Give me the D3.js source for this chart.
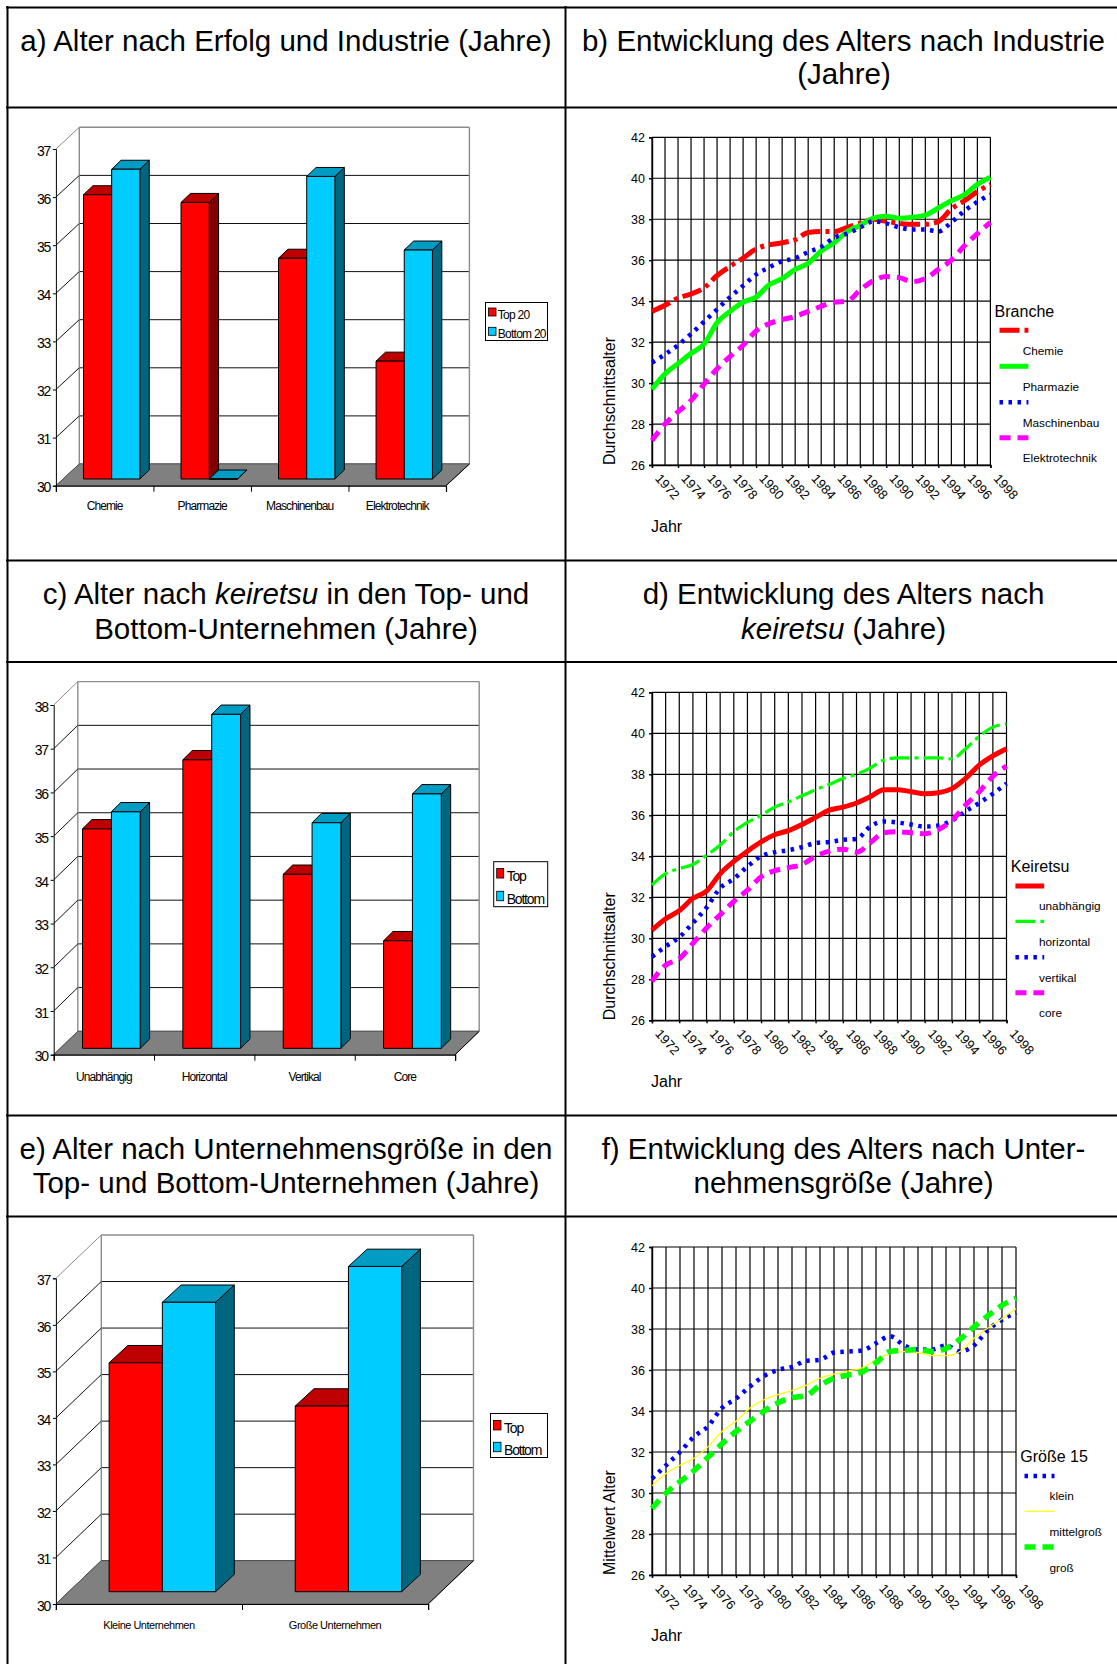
<!DOCTYPE html>
<html lang="de">
<head>
<meta charset="utf-8">
<script src="https://cdn.jsdelivr.net/npm/d3@7"></script>
<style>
	body { margin: 0; background: #fff; }
	svg { display: block; }
	text { font-family: "Liberation Sans", Arial, sans-serif; fill: #000; }
</style>
</head>
<body>
<div id="graphic"></div>
<script>
// panel a
const industries = ['Chemie', 'Pharmazie', 'Maschinenbau', 'Elektrotechnik'];
const industryTop = [35.91, 35.75, 34.59, 32.45];
const industryBottom = [36.44, 30, 36.29, 34.76];
// panel c
const keiretsuTypes = ['Unabhängig', 'Horizontal', 'Vertikal', 'Core'];
const keiretsuTop = [35.02, 36.6, 33.98, 32.46];
const keiretsuBottom = [35.41, 37.64, 35.16, 35.82];
// panel e
const firmSizes = ['Kleine Unternehmen', 'Große Unternehmen'];
const sizeTop = [34.92, 33.99];
const sizeBottom = [36.22, 36.99];

const years = d3.range(1972, 1999);
const yearTicks = years.filter(d => d % 2 === 0);
const ageTicks = [26, 28, 30, 32, 34, 36, 38, 40, 42];

// panel b
const chemie = [33.5, 33.8, 34.15, 34.35, 34.65, 35.25, 35.7, 36.1, 36.55, 36.75, 36.85, 37.0, 37.35, 37.4, 37.4, 37.6, 37.8, 38.0, 37.9, 37.8, 37.75, 37.75, 37.88, 38.5, 38.9, 39.35, 39.7];
const pharmazie = [29.7, 30.45, 30.95, 31.45, 31.9, 32.95, 33.5, 33.95, 34.2, 34.8, 35.1, 35.55, 35.85, 36.45, 36.85, 37.4, 37.7, 38.05, 38.15, 38.05, 38.1, 38.2, 38.55, 38.9, 39.2, 39.7, 40.05];
const maschinenbau = [31.0, 31.4, 31.85, 32.4, 33.0, 33.6, 34.2, 34.75, 35.3, 35.65, 35.95, 36.1, 36.4, 36.65, 37.1, 37.3, 37.6, 37.9, 37.8, 37.6, 37.5, 37.5, 37.4, 37.85, 38.4, 38.85, 39.2];
const elektrotechnik = [27.2, 28.0, 28.6, 29.15, 29.95, 30.7, 31.3, 31.85, 32.55, 32.9, 33.1, 33.25, 33.5, 33.75, 33.95, 34.0, 34.55, 35.0, 35.2, 35.15, 34.95, 35.1, 35.55, 36.0, 36.7, 37.3, 37.85];
// panel d
const unabhaengig = [30.4, 30.95, 31.35, 31.95, 32.3, 33.15, 33.75, 34.25, 34.7, 35.05, 35.25, 35.55, 35.9, 36.25, 36.4, 36.6, 36.9, 37.25, 37.25, 37.15, 37.05, 37.1, 37.3, 37.8, 38.45, 38.9, 39.25];
const horizontal = [32.6, 33.15, 33.4, 33.6, 34.05, 34.55, 35.2, 35.65, 36.0, 36.4, 36.65, 36.95, 37.25, 37.5, 37.8, 38.0, 38.3, 38.7, 38.8, 38.8, 38.8, 38.8, 38.75, 39.25, 39.85, 40.3, 40.45];
const vertikal = [29.1, 29.6, 30.05, 30.75, 31.5, 32.45, 32.9, 33.5, 34.0, 34.2, 34.3, 34.45, 34.65, 34.7, 34.8, 34.85, 35.45, 35.7, 35.65, 35.55, 35.45, 35.5, 35.75, 36.2, 36.6, 37.05, 37.55];
const core = [27.9, 28.7, 29.0, 29.75, 30.5, 31.15, 31.8, 32.35, 33.0, 33.3, 33.45, 33.6, 34.0, 34.25, 34.35, 34.2, 34.65, 35.15, 35.2, 35.15, 35.1, 35.3, 35.75, 36.5, 37.15, 37.9, 38.4];
// panel f
const klein = [30.7, 31.35, 32.0, 32.75, 33.25, 34.15, 34.6, 35.2, 35.7, 36.0, 36.15, 36.45, 36.5, 36.85, 36.9, 36.95, 37.3, 37.65, 37.2, 37.0, 37.0, 37.2, 36.9, 37.2, 37.95, 38.45, 38.8];
const mittelgross = [30.35, 30.95, 31.35, 31.7, 32.25, 33.0, 33.5, 34.15, 34.55, 34.8, 35.0, 35.25, 35.6, 35.8, 35.95, 36.1, 36.5, 36.8, 36.9, 36.85, 36.7, 36.7, 36.9, 37.55, 38.05, 38.5, 39.0];
const gross = [29.25, 30.0, 30.55, 31.1, 31.75, 32.4, 33.0, 33.5, 34.0, 34.4, 34.65, 34.75, 35.25, 35.6, 35.75, 35.9, 36.35, 36.9, 36.95, 37.0, 36.9, 37.05, 37.5, 38.1, 38.65, 39.15, 39.5];

const width = 1117;
const height = 1664;

const styleSolid = { dash: null, w: 5 };
const styleDashDot = { dash: '20 5 4 5', w: 5 };
const styleDots = { dash: '3.5 5.5', w: 4.5 };
const styleDash = { dash: '11 7', w: 5 };

let svg = d3.select('#graphic').append('svg')
	.attr('width', width)
	.attr('height', height);

//table frame
const frameH = [7.5, 107.5, 560.5, 662, 1115.5, 1216.5];
const frameV = [7.5, 565.5];
svg.selectAll('.frameh').data(frameH).join('line')
	.attr('x1', 6).attr('x2', width).attr('y1', d => d).attr('y2', d => d)
	.attr('stroke', '#000').attr('stroke-width', 2);
svg.selectAll('.framev').data(frameV).join('line')
	.attr('class', 'framev')
	.attr('x1', d => d).attr('x2', d => d).attr('y1', 6).attr('y2', height)
	.attr('stroke', '#000').attr('stroke-width', 2);

//titles, one entry per line
const titles = [
	{ x: 286, y: 50.5, parts: [['a) Alter nach Erfolg und Industrie (Jahre)']] },
	{ x: 843.5, y: 50.5, parts: [['b) Entwicklung des Alters nach Industrie']] },
	{ x: 844, y: 84, parts: [['(Jahre)']] },
	{ x: 286, y: 604, parts: [['c) Alter nach '], ['keiretsu', true], [' in den Top- und']] },
	{ x: 286, y: 638.5, parts: [['Bottom-Unternehmen (Jahre)']] },
	{ x: 843.5, y: 604, parts: [['d) Entwicklung des Alters nach']] },
	{ x: 843.5, y: 638.5, parts: [['keiretsu', true], [' (Jahre)']] },
	{ x: 286, y: 1159, parts: [['e) Alter nach Unternehmensgröße in den']] },
	{ x: 286, y: 1192.5, parts: [['Top- und Bottom-Unternehmen (Jahre)']] },
	{ x: 843.5, y: 1159, parts: [['f) Entwicklung des Alters nach Unter-']] },
	{ x: 843.5, y: 1192.5, parts: [['nehmensgröße (Jahre)']] }
];

titles.forEach(t => {
	let label = svg.append('text')
		.attr('x', t.x).attr('y', t.y)
		.attr('text-anchor', 'middle')
		.style('font-size', '29.5px');
	t.parts.forEach(p => {
		label.append('tspan')
			.style('font-style', p[1] ? 'italic' : 'normal')
			.text(p[0]);
	});
});

function drawBarPanel(p) {
	const g = svg.append('g');
	const backX = d => d + p.depth[0];
	const backY = d => d - p.depth[1];

	let y = d3.scaleLinear().domain([30, p.maxValue]).range(p.yRange);
	let x = d3.scaleBand().domain(p.categories).range(p.xRange).paddingInner(p.padding).paddingOuter(p.padding / 2);
	let xSeries = d3.scaleBand().domain(['top', 'bottom']).range([0, x.bandwidth()]);
	const ticks = d3.range(30, p.maxValue + 1);
	const left = p.xRange[0];
	const right = p.xRange[1];
	const base = p.yRange[0];

	//back wall with gridlines
	g.selectAll('.grid').data(ticks).join('line')
		.attr('x1', backX(left)).attr('x2', backX(right))
		.attr('y1', d => backY(y(d))).attr('y2', d => backY(y(d)))
		.attr('stroke', d => d == p.maxValue ? '#8c8c8c' : '#111')
		.attr('stroke-width', d => d == p.maxValue ? 1.4 : 1);
	g.append('line')
		.attr('x1', backX(left)).attr('x2', backX(left))
		.attr('y1', backY(y(30))).attr('y2', backY(y(p.maxValue)))
		.attr('stroke', '#8c8c8c').attr('stroke-width', 1.4);
	g.append('line')
		.attr('x1', backX(right)).attr('x2', backX(right))
		.attr('y1', backY(y(30))).attr('y2', backY(y(p.maxValue)))
		.attr('stroke', '#8c8c8c').attr('stroke-width', 1.4);
	//side wall diagonals
	g.selectAll('.diag').data(ticks).join('line')
		.attr('x1', left).attr('x2', backX(left))
		.attr('y1', d => y(d)).attr('y2', d => backY(y(d)))
		.attr('stroke', d => d == p.maxValue ? '#8c8c8c' : '#111')
		.attr('stroke-width', 1);

	//floor
	g.append('path')
		.attr('d', d3.line()([[left, base], [right, base], [backX(right), backY(base)], [backX(left), backY(base)]]) + 'Z')
		.attr('fill', '#808080')
		.attr('stroke', '#555')
		.attr('stroke-width', 0.8);

	//bars: front, top, side
	const barData = [];
	p.categories.forEach((c, i) => {
		barData.push({ category: c, series: 'top', value: p.top[i], colours: ['#ff0000', '#bf0000', '#800000'] });
		barData.push({ category: c, series: 'bottom', value: p.bottom[i], colours: ['#00ccff', '#009cc4', '#006680'] });
	});
	barData.forEach(d => {
		const x0 = x(d.category) + xSeries(d.series) + p.gap[0];
		const x1 = x0 + xSeries.bandwidth();
		const y0 = y(d.value) - p.gap[1];
		const y1 = base - p.gap[1];
		const dx = p.barDepth[0];
		const dy = p.barDepth[1];
		const outline = poly => g.append('path')
			.attr('d', d3.line()(poly) + 'Z')
			.attr('stroke', '#000').attr('stroke-width', 1).attr('stroke-linejoin', 'round');
		outline([[x1, y0], [x1 + dx, y0 - dy], [x1 + dx, y1 - dy], [x1, y1]]).attr('fill', d.colours[2]);
		outline([[x0, y0], [x0 + dx, y0 - dy], [x1 + dx, y0 - dy], [x1, y0]]).attr('fill', d.colours[1]);
		outline([[x0, y0], [x1, y0], [x1, y1], [x0, y1]]).attr('fill', d.colours[0]);
	});

	//front axes
	let yAxis = d3.axisLeft(y).tickValues(ticks).tickSize(3).tickPadding(3).tickFormat(d3.format('d'));
	let yg = g.append('g').attr('transform', 'translate(' + left + ',0)').call(yAxis);
	yg.selectAll('text')
		.attr('y', 1.8)
		.style('font-size', p.tickFont + 'px')
		.style('letter-spacing', p.tickSpacing + 'px');
	yg.select('.domain').attr('stroke', '#000').attr('stroke-width', 1);

	const tickEdges = d3.scalePoint().domain(d3.range(p.categories.length + 1)).range(p.xRange);
	let xAxis = d3.axisBottom(tickEdges).tickSize(6).tickFormat('');
	g.append('g').attr('transform', 'translate(0,' + base + ')').call(xAxis)
		.select('.domain').attr('stroke', '#000').attr('stroke-width', 1.2);
	g.append('line')
		.attr('x1', right).attr('x2', backX(right))
		.attr('y1', base).attr('y2', backY(base))
		.attr('stroke', '#000').attr('stroke-width', 1);

	g.selectAll('.catlabel').data(p.categories).join('text')
		.attr('x', d => x(d) + x.bandwidth() / 2)
		.attr('y', base + p.labelOffset)
		.attr('text-anchor', 'middle')
		.style('font-size', p.catFont + 'px')
		.style('letter-spacing', p.catSpacing + 'px')
		.text(d => d);

	//legend
	const lg = p.legend;
	g.append('rect')
		.attr('x', lg.x).attr('y', lg.y).attr('width', lg.w).attr('height', lg.h)
		.attr('fill', '#fff').attr('stroke', '#000').attr('stroke-width', 1);
	lg.labels.forEach((label, i) => {
		g.append('rect')
			.attr('x', lg.x + 3).attr('y', lg.rowY[i] - lg.swatch[1] / 2)
			.attr('width', lg.swatch[0]).attr('height', lg.swatch[1])
			.attr('fill', i ? '#00ccff' : '#ff0000')
			.attr('stroke', '#000').attr('stroke-width', 0.8);
		g.append('text')
			.attr('x', lg.x + 3 + lg.swatch[0] + lg.textGap)
			.attr('y', lg.rowY[i] + lg.baseline[i])
			.style('font-size', lg.font + 'px')
			.style('letter-spacing', lg.spacing + 'px')
			.text(label);
	});
}

function drawLinePanel(p) {
	const g = svg.append('g');
	let x = d3.scalePoint().domain(years).range(p.xRange);
	let y = d3.scaleLinear().domain([26, 42]).range(p.yRange);

	//gridlines
	g.selectAll('.vgrid').data(years).join('line')
		.attr('x1', d => x(d)).attr('x2', d => x(d))
		.attr('y1', p.yRange[0]).attr('y2', p.yRange[1])
		.attr('stroke', '#000').attr('stroke-width', 1.2);
	g.selectAll('.hgrid').data(ageTicks).join('line')
		.attr('x1', p.xRange[0]).attr('x2', p.xRange[1])
		.attr('y1', d => y(d)).attr('y2', d => y(d))
		.attr('stroke', '#000').attr('stroke-width', 1.2);

	let yAxis = d3.axisLeft(y).tickValues(ageTicks).tickSize(3).tickPadding(4);
	let yg = g.append('g').attr('transform', 'translate(' + p.xRange[0] + ',0)').call(yAxis);
	yg.selectAll('text').style('font-size', '12.5px');
	yg.selectAll('line').attr('stroke-width', 1.4);
	yg.select('.domain').attr('stroke-width', 1.4);

	let xAxis = d3.axisBottom(x).tickValues(yearTicks).tickSize(3).tickFormat(d3.format('d'));
	let xg = g.append('g').attr('transform', 'translate(0,' + p.yRange[0] + ')').call(xAxis);
	xg.selectAll('line').attr('stroke-width', 1.4);
	xg.select('.domain').attr('stroke-width', 1.4);
	xg.selectAll('text')
		.style('font-size', '13px')
		.attr('text-anchor', 'start')
		.attr('dy', null)
		.attr('y', 0)
		.attr('transform', 'translate(2,14) rotate(48)');

	let line = d3.line()
		.x((d, i) => x(years[i]))
		.y(d => y(d))
		.curve(d3.curveMonotoneX);

	p.series.forEach(s => {
		g.append('path')
			.attr('d', line(s.values))
			.attr('fill', 'none')
			.attr('stroke', s.colour)
			.attr('stroke-width', s.style.w)
			.attr('stroke-dasharray', s.style.dash);
	});

	//axis titles
	g.append('text')
		.attr('transform', 'translate(' + p.titleX + ',' + p.yRange[0] + ') rotate(-90)')
		.style('font-size', '16px')
		.text(p.yTitle);
	g.append('text')
		.attr('x', p.xRange[0] - 1)
		.attr('y', p.jahrY)
		.style('font-size', '16px')
		.text('Jahr');

	//legend
	const lg = p.legend;
	g.append('text')
		.attr('x', lg.titleX).attr('y', lg.titleY)
		.style('font-size', '16px')
		.text(lg.title);
	p.series.forEach((s, i) => {
		g.append('line')
			.attr('x1', lg.swatch[0]).attr('x2', lg.swatch[1])
			.attr('y1', lg.lineY[i]).attr('y2', lg.lineY[i])
			.attr('stroke', s.colour)
			.attr('stroke-width', s.style.w)
			.attr('stroke-dasharray', s.style.dash);
		g.append('text')
			.attr('x', lg.labelX).attr('y', lg.labelY[i])
			.style('font-size', '11.8px')
			.text(s.name);
	});
}

drawBarPanel({
	categories: industries, top: industryTop, bottom: industryBottom,
	maxValue: 37, yRange: [485.7, 149], xRange: [55.9, 446],
	depth: [23.4, 21.7], padding: 0.422, gap: [7, 6.7], barDepth: [9.4, 9],
	tickFont: 14, tickSpacing: -1.3, catFont: 12, catSpacing: -0.9, labelOffset: 24,
	legend: { x: 485.5, y: 302.5, w: 62, h: 38, swatch: [7.5, 8], rowY: [312, 331.3], textGap: 1.8, baseline: [6.5, 6.5], font: 12, spacing: -0.75, labels: ['Top 20', 'Bottom 20'] }
});

drawBarPanel({
	categories: keiretsuTypes, top: keiretsuTop, bottom: keiretsuBottom,
	maxValue: 38, yRange: [1054.7, 705], xRange: [53.7, 455.1],
	depth: [24.1, 23.4], padding: 0.425, gap: [7.5, 6.4], barDepth: [9.4, 9.3],
	tickFont: 14, tickSpacing: -1.3, catFont: 12, catSpacing: -0.9, labelOffset: 26,
	legend: { x: 493.7, y: 861.7, w: 54, h: 45, swatch: [7, 9.5], rowY: [873.3, 896], textGap: 3, baseline: [7.5, 7.5], font: 14, spacing: -1.2, labels: ['Top', 'Bottom'] }
});

drawBarPanel({
	categories: firmSizes, top: sizeTop, bottom: sizeBottom,
	maxValue: 37, yRange: [1604, 1278.3], xRange: [55.9, 428.1],
	depth: [45.4, 43.3], padding: 0.428, gap: [13.4, 12.3], barDepth: [18.7, 17.3],
	tickFont: 14, tickSpacing: -1.3, catFont: 11, catSpacing: -0.5, labelOffset: 25,
	legend: { x: 490.5, y: 1413.5, w: 57, h: 44, swatch: [7.5, 9.5], rowY: [1425.2, 1447], textGap: 3, baseline: [7.5, 7.5], font: 14, spacing: -1.2, labels: ['Top', 'Bottom'] }
});

drawLinePanel({
	xRange: [652, 990.4], yRange: [465, 137.3], titleX: 615, yTitle: 'Durchschnittsalter', jahrY: 532,
	series: [
		{ name: 'Chemie', values: chemie, colour: '#ff0000', style: styleDashDot },
		{ name: 'Pharmazie', values: pharmazie, colour: '#00ff00', style: styleSolid },
		{ name: 'Maschinenbau', values: maschinenbau, colour: '#0000ff', style: styleDots },
		{ name: 'Elektrotechnik', values: elektrotechnik, colour: '#ff00ff', style: styleDash }
	],
	legend: { title: 'Branche', titleX: 994.6, titleY: 317, swatch: [999.5, 1028.4], lineY: [330.3, 366.3, 402.3, 437.7], labelX: 1022.7, labelY: [354.7, 390.7, 426.7, 461.7] }
});

drawLinePanel({
	xRange: [652, 1006.5], yRange: [1020.3, 692.3], titleX: 615, yTitle: 'Durchschnittsalter', jahrY: 1087,
	series: [
		{ name: 'unabhängig', values: unabhaengig, colour: '#ff0000', style: styleSolid },
		{ name: 'horizontal', values: horizontal, colour: '#00ff00', style: { dash: '20 5 4 5', w: 3.2 } },
		{ name: 'vertikal', values: vertikal, colour: '#0000ff', style: styleDots },
		{ name: 'core', values: core, colour: '#ff00ff', style: styleDash }
	],
	legend: { title: 'Keiretsu', titleX: 1010.8, titleY: 872, swatch: [1015.4, 1044.2], lineY: [886, 921.3, 957.3, 992.7], labelX: 1039, labelY: [910, 945.7, 981.7, 1017.3] }
});

drawLinePanel({
	xRange: [652, 1016], yRange: [1575, 1247], titleX: 615, yTitle: 'Mittelwert Alter', jahrY: 1641,
	series: [
		{ name: 'klein', values: klein, colour: '#0000ff', style: styleDots },
		{ name: 'mittelgroß', values: mittelgross, colour: '#ffff00', style: { dash: null, w: 1.2 } },
		{ name: 'groß', values: gross, colour: '#00ff00', style: { dash: '11 7', w: 5.5 } }
	],
	legend: { title: 'Größe 15', titleX: 1020.3, titleY: 1462, swatch: [1024.5, 1054.5], lineY: [1476, 1511.3, 1547], labelX: 1049.5, labelY: [1500, 1535.7, 1572.3] }
});
</script>
</body>
</html>
